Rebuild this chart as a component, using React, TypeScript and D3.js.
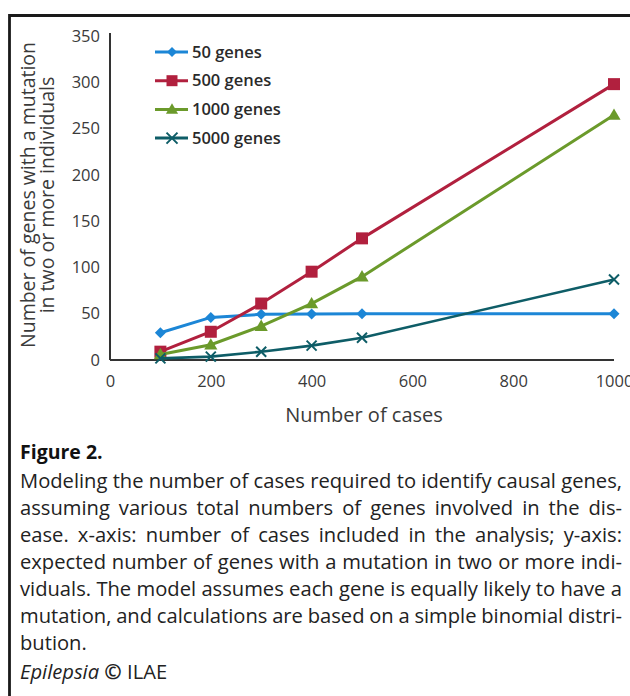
import { useEffect, useRef } from "react";
import * as d3 from "d3";

// Data
const cases = [100, 200, 300, 400, 500, 1000];
const genes50 = [29.5, 46, 49.3, 49.7, 50, 50];
const genes500 = [9, 30.5, 61, 95.4, 131.4, 298];
const genes1000 = [6, 16.5, 36.5, 61, 90, 264.6];
const genes5000 = [1.8, 3.6, 9, 15.5, 24, 87];

const seriesNames = ["50 genes", "500 genes", "1000 genes", "5000 genes"];
const seriesColors = ["#1c86d6", "#b1203e", "#6b9a2b", "#0e5d67"];
const seriesMarkers = ["diamond", "square", "triangle", "x"];

const xTicks = [0, 200, 400, 600, 800, 1000];
const yTicks = [0, 50, 100, 150, 200, 250, 300, 350];

const captionTitle = "Figure 2.";
const captionLines = [
  "Modeling the number of cases required to identify causal genes,",
  "assuming various total numbers of genes involved in the dis-",
  "ease. x-axis: number of cases included in the analysis; y-axis:",
  "expected number of genes with a mutation in two or more indi-",
  "viduals. The model assumes each gene is equally likely to have a",
  "mutation, and calculations are based on a simple binomial distri-",
  "bution.",
];

const FONT = "'Open Sans', Lato, sans-serif";

const markerPath = (kind: string, r: number) => {
  if (kind === "diamond") return `M0,${-r}L${r},0L0,${r}L${-r},0Z`;
  if (kind === "square") return `M${-r},${-r}H${r}V${r}H${-r}Z`;
  if (kind === "triangle") return `M0,${-r * 1.1}L${r * 1.1},${r * 0.8}L${-r * 1.1},${r * 0.8}Z`;
  return `M${-r},${-r}L${r},${r}M${-r},${r}L${r},${-r}`;
};

const App = () => {
  const svgRef = useRef<SVGSVGElement>(null);

  useEffect(() => {
    const width = 630;
    const height = 696;
    const svg = d3.select(svgRef.current).attr("width", width).attr("height", height)
      .style("font-family", FONT);
    svg.selectAll("*").remove();

    // frame
    svg.append("path")
      .attr("d", `M9.5,${height}V15.5H${width}`)
      .attr("fill", "none")
      .attr("stroke", "#1a1a1a")
      .attr("stroke-width", 2.8);

    const x = d3.scaleLinear().domain([0, 1000]).range([110, 614]);
    const y = d3.scaleLinear().domain([0, 350]).range([360, 36]);

    // y axis
    svg.append("g")
      .attr("transform", "translate(110,0)")
      .call(d3.axisLeft(y).tickValues(yTicks).tickSize(0).tickPadding(10))
      .call(g => g.select(".domain").attr("d", `M0,33V${y(0)}`).attr("stroke", "#333").attr("stroke-width", 2))
      .selectAll("text")
        .attr("fill", "#3a3a3a")
        .style("font-family", FONT)
        .style("font-size", "16.5px");

    // x axis
    svg.append("g")
      .attr("transform", `translate(0,${y(0)})`)
      .call(d3.axisBottom(x).tickValues(xTicks).tickFormat(d3.format("d")).tickSize(0).tickPadding(15))
      .call(g => g.select(".domain").attr("d", `M${x(0)},0H${x(1000)}`).attr("stroke", "#333").attr("stroke-width", 2))
      .selectAll("text")
        .attr("fill", "#3a3a3a")
        .style("font-family", FONT)
        .style("font-size", "16.5px");

    // axis titles
    svg.append("text")
      .attr("x", 364).attr("y", 422)
      .attr("text-anchor", "middle")
      .attr("fill", "#3a3a3a")
      .style("font-size", "20px")
      .text("Number of cases");

    const yTitle = svg.append("text")
      .attr("transform", "translate(35,195) rotate(-90)")
      .attr("text-anchor", "middle")
      .attr("fill", "#3a3a3a")
      .style("font-size", "19.5px");
    yTitle.append("tspan").attr("x", 0).attr("y", 0).text("Number of genes with a mutation");
    yTitle.append("tspan").attr("x", 0).attr("y", 18.5).text("in two or more individuals");

    // series
    const allSeries = [genes50, genes500, genes1000, genes5000];
    const line = d3.line<number>()
      .x((_, i) => x(cases[i]))
      .y(d => y(d));

    allSeries.forEach((values, s) => {
      const color = seriesColors[s];
      const g = svg.append("g");
      g.append("path")
        .attr("d", line(values))
        .attr("fill", "none")
        .attr("stroke", color)
        .attr("stroke-width", s === 3 ? 2.6 : 3);
      g.selectAll("path.m")
        .data(values)
        .join("path")
        .attr("class", "m")
        .attr("transform", (d, i) => `translate(${x(cases[i])},${y(d)})`)
        .attr("d", markerPath(seriesMarkers[s], s === 0 ? 5.5 : s === 3 ? 5 : 6))
        .attr("fill", seriesMarkers[s] === "x" ? "none" : color)
        .attr("stroke", color)
        .attr("stroke-width", seriesMarkers[s] === "x" ? 2 : 0);
    });

    // legend
    const legend = svg.append("g");
    seriesNames.forEach((name, s) => {
      const ly = 52 + s * 28.7;
      const color = seriesColors[s];
      legend.append("line")
        .attr("x1", 155).attr("x2", 188).attr("y1", ly).attr("y2", ly)
        .attr("stroke", color).attr("stroke-width", 3);
      legend.append("path")
        .attr("transform", `translate(172,${ly})`)
        .attr("d", markerPath(seriesMarkers[s], s === 0 ? 5 : 5.5))
        .attr("fill", seriesMarkers[s] === "x" ? "none" : color)
        .attr("stroke", color)
        .attr("stroke-width", seriesMarkers[s] === "x" ? 2 : 0);
      legend.append("text")
        .attr("x", 192).attr("y", ly + 5.5)
        .attr("fill", "#2a2a2a")
        .style("font-size", "16.5px")
        .style("font-weight", 600)
        .text(name);
    });

    // caption
    svg.append("text")
      .attr("x", 20).attr("y", 459)
      .attr("fill", "#111")
      .style("font-size", "19.5px")
      .style("font-weight", 700)
      .text(captionTitle);

    const left = 20;
    const right = 622;
    const ctx = document.createElement("canvas").getContext("2d")!;
    ctx.font = "18px 'Open Sans'";
    // size the caption so the tightest line fills the column
    const capSize = Math.min(21, 18 * (right - left) / ctx.measureText(captionLines[0]).width);
    ctx.font = `${capSize}px 'Open Sans'`;
    captionLines.forEach((ln, i) => {
      const by = 488 + i * 27;
      const words = ln.split(" ");
      const last = i === captionLines.length - 1;
      const widths = words.map(w => ctx.measureText(w).width);
      const total = d3.sum(widths);
      const gap = last ? ctx.measureText(" ").width : (right - left - total) / (words.length - 1);
      let cx = left;
      const t = svg.append("text").attr("y", by).attr("fill", "#222").style("font-size", `${capSize}px`);
      words.forEach((w, k) => {
        t.append("tspan").attr("x", cx).text(w);
        cx += widths[k] + gap;
      });
    });

    const ep = svg.append("text")
      .attr("x", 20).attr("y", 679)
      .attr("fill", "#222")
      .style("font-size", `${capSize}px`);
    ep.append("tspan").style("font-style", "italic").text("Epilepsia ");
    ep.append("tspan").style("font-weight", 700).style("font-size", "21px").text("©");
    ep.append("tspan").text(" ILAE");
  }, []);

  return <svg ref={svgRef} style={{ position: "absolute", left: 0, top: 0, background: "#fff" }}></svg>;
};

export default App;
